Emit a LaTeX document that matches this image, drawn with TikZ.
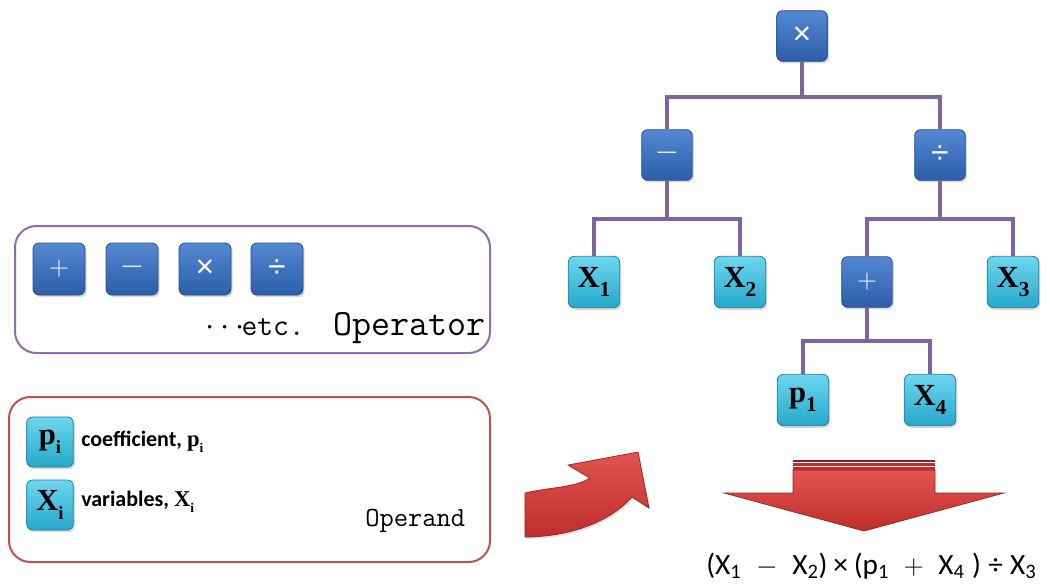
\documentclass[tikz,border=0pt]{standalone}
\usepackage{fontspec}
\setmainfont{Liberation Serif}
\newfontfamily\calfont{Carlito}
\newfontfamily\symfont{Liberation Sans}
\usetikzlibrary{shadows,backgrounds}

\definecolor{linkpurple}{RGB}{128,100,162}
\definecolor{boxpurple}{RGB}{140,110,175}
\definecolor{boxred}{RGB}{192,80,77}
\definecolor{opTop}{RGB}{84,136,210}
\definecolor{opBot}{RGB}{44,94,168}
\definecolor{opEdge}{RGB}{38,78,140}
\definecolor{varTop}{RGB}{110,214,238}
\definecolor{varBot}{RGB}{38,168,204}
\definecolor{varEdge}{RGB}{28,128,160}
\definecolor{arrTop}{RGB}{226,84,78}
\definecolor{arrBot}{RGB}{190,46,44}
\definecolor{arrEdge}{RGB}{150,30,30}

% subscript for the bold operand labels
\newcommand\lowsub[2]{\raisebox{-0.3em}{\fontsize{#1}{#1}\selectfont #2}}

\tikzset{
  btn/.style={rectangle, rounded corners=4.5pt, inner sep=0pt,
    line width=0.6pt,
    drop shadow={opacity=0.3, shadow xshift=1.2pt, shadow yshift=-1.6pt}},
  opbtn/.style={btn, minimum width=38pt, minimum height=38pt,
    top color=opTop, bottom color=opBot, draw=opEdge, text=white},
  varbtn/.style={btn, minimum width=38.5pt, minimum height=38.5pt,
    top color=varTop, bottom color=varBot, draw=varEdge, text=black,
    font=\bfseries\fontsize{23pt}{23pt}\selectfont},
  smallvar/.style={varbtn, minimum width=35pt, minimum height=37.5pt},
  link/.style={draw=linkpurple, line width=3pt},
  legendbox/.style={rounded corners=16pt, line width=1.5pt, fill=white},
  bigarrow/.style={top color=arrTop, bottom color=arrBot, draw=arrEdge, line width=0.5pt},
  plusglyph/.style={font=\fontsize{21pt}{21pt}\selectfont},
  dashglyph/.style={font=\symfont\fontsize{14pt}{14pt}\selectfont},
  symglyph/.style={font=\symfont\fontsize{24pt}{24pt}\selectfont},
  legendtext/.style={font=\calfont\bfseries\fontsize{16.5pt}{17pt}\selectfont},
}

\begin{document}
\begin{tikzpicture}[x=0.75pt,y=-0.75pt]
\useasboundingbox (0,0) rectangle (1050,587);

% ---------- legend: operators ----------
\draw[legendbox, draw=boxpurple] (15,226) rectangle (490,353);
\node[opbtn, minimum width=39pt, minimum height=39pt, plusglyph] (lplus) at (59,269) {$+$};
\node[opbtn, minimum width=39pt, minimum height=39pt, dashglyph] (lminus) at (132,269) {—};
\node[opbtn, minimum width=39pt, minimum height=39pt, symglyph] (ltimes) at (205,269) {×};
\node[opbtn, minimum width=39pt, minimum height=39pt, symglyph] (ldiv) at (277,269) {÷};
\node[anchor=base east, inner sep=0pt, font=\ttfamily\fontsize{23pt}{23pt}\selectfont]
  (etc) at (305,335) {$\cdots$\hspace{-0.1em}etc.};
\node[anchor=base west, inner sep=0pt, font=\ttfamily\fontsize{27.7pt}{28pt}\selectfont]
  (operator) at (333,335) {Operator};

% ---------- legend: operands ----------
\draw[legendbox, draw=boxred] (9,397) rectangle (490,562);
\node[smallvar] (lp) at (50,442) {p\lowsub{14pt}{i}};
\node[smallvar] (lx) at (50,505) {X\lowsub{14pt}{i}};
\node[anchor=base west, inner sep=0pt, legendtext] (coef) at (81,446)
  {coefficient, {\rmfamily\bfseries\fontsize{17pt}{17pt}\selectfont p\lowsub{10pt}{i}}};
\node[anchor=base west, inner sep=0pt, legendtext] (vars) at (81,506)
  {variables, {\rmfamily\bfseries\fontsize{17pt}{17pt}\selectfont X\lowsub{10pt}{i}}};
\node[anchor=base west, inner sep=0pt, font=\ttfamily\fontsize{20.8pt}{21pt}\selectfont]
  (operand) at (365,526) {Operand};

% ---------- expression tree ----------
\node[opbtn, symglyph] (root) at (802,36) {×};
\node[opbtn, dashglyph] (minus) at (667,155) {—};
\node[opbtn, symglyph] (div) at (940,155) {÷};
\node[varbtn] (x1) at (594,282) {X\lowsub{16pt}{1}};
\node[varbtn] (x2) at (740,282) {X\lowsub{16pt}{2}};
\node[opbtn, plusglyph] (plus) at (867,282) {$+$};
\node[varbtn] (x3) at (1013,282) {X\lowsub{16pt}{3}};
\node[varbtn] (p1) at (803,400) {p\lowsub{16pt}{1}};
\node[varbtn] (x4) at (930,400) {X\lowsub{16pt}{4}};

\coordinate (j0) at (802,97);
\coordinate (j1) at (667,219);
\coordinate (j2) at (940,219);
\coordinate (j3) at (867,341);

\begin{pgfonlayer}{background}
  \draw[link] (root.south) -- (j0);
  \draw[link] (minus.north) |- (j0) -| (div.north);
  \draw[link] (minus.south) -- (j1);
  \draw[link] (x1.north) |- (j1) -| (x2.north);
  \draw[link] (div.south) -- (j2);
  \draw[link] (plus.north) |- (j2) -| (x3.north);
  \draw[link] (plus.south) -- (j3);
  \draw[link] (p1.north) |- (j3) -| (x4.north);
\end{pgfonlayer}

% ---------- curved arrow from the legend to the tree ----------
\path[bigarrow, drop shadow={opacity=0.25, shadow xshift=1pt, shadow yshift=-1.5pt}]
  (525,493) .. controls (550,487) and (574,488) .. (590,478)
  -- (568,465) -- (638,452) -- (649,508) -- (632,497)
  .. controls (606,526) and (562,537) .. (525,537) -- cycle;

% ---------- down arrow to the expression ----------
\fill[arrEdge] (793,460) rectangle (935,461.5);
\fill[arrBot] (793,462.5) rectangle (935,466);
\fill[arrBot] (793,467) rectangle (935,469.5);
\path[bigarrow] (724,493) -- (793,493) -- (793,470) -- (935,470) -- (935,493)
  -- (1004,493) -- (864,531) -- cycle;

\node[anchor=base west, inner sep=0pt, font=\calfont\fontsize{22pt}{22pt}\selectfont]
  (expr) at (706,574)
  {(X\textsubscript{1}\hspace{0.5em}$-$\hspace{0.5em}X\textsubscript{2})\hspace{0.2em}×\hspace{0.2em}(p\textsubscript{1}\hspace{0.5em}$+$\hspace{0.5em}X\textsubscript{4}\hspace{0.25em})\hspace{0.25em}÷\hspace{0.25em}X\textsubscript{3}};
\end{tikzpicture}
\end{document}
